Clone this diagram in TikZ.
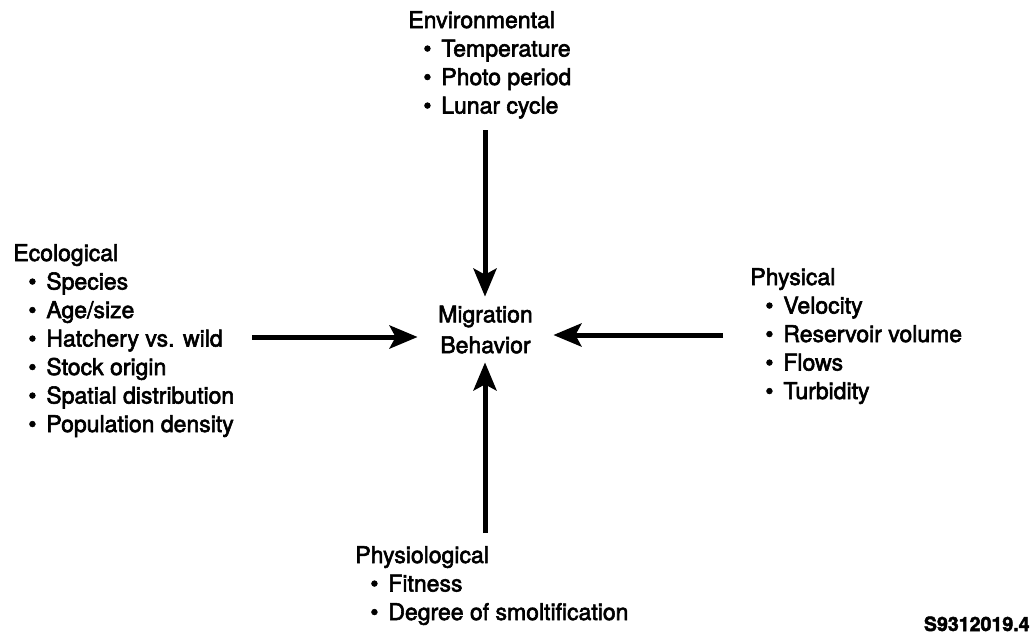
\documentclass[tikz,border=0pt]{standalone}
\usepackage{fontspec}
\setmainfont{TeX Gyre Heros}[FakeBold=2.5]
\usetikzlibrary{arrows.meta}
% bulleted entry of a factor list
\newcommand\bul[1]{\makebox[16.5pt][l]{\hspace{7.5pt}•}#1}
\begin{document}
\begin{tikzpicture}[x=0.5pt,y=-0.5pt,
  group/.style={anchor=base west,inner sep=0pt,align=left,
    font=\fontsize{11.5pt}{14.25pt}\selectfont},
  flow/.style={line width=2.5pt,-{Stealth[length=14pt,width=11.5pt,inset=3pt]}}]
\useasboundingbox[fill=white] (0,0) rectangle (1032,638);

% factor groups (placed by the baseline of their last line)
\node[group] (env) at (408,113.5) {Environmental\\
  \bul{Temperature}\\\bul{Photo period}\\\bul{Lunar cycle}};
\node[group] (eco) at (13,432) {Ecological\\
  \bul{Species}\\\bul{Age/size}\\\bul{Hatchery vs. wild}\\
  \bul{Stock origin}\\\bul{Spatial distribution}\\\bul{Population density}};
\node[group] (phys) at (750,399) {Physical\\
  \bul{Velocity}\\\bul{Reservoir volume}\\\bul{Flows}\\\bul{Turbidity}};
\node[group] (physio) at (355,620) {Physiological\\
  \bul{Fitness}\\\bul{Degree of smoltification}};

% central response
\node[inner sep=0pt,minimum width=67.5pt,minimum height=32.5pt,align=center,
  font=\fontsize{11.5pt}{13.5pt}\selectfont] (mig) at (485.5,329.5)
  {\raisebox{-2pt}{\shortstack{Migration\\[1.5pt]Behavior}}};

% figure code
\node[anchor=base east,inner sep=0pt,font=\bfseries\fontsize{9.8pt}{12pt}\selectfont]
  (code) at (1030,631) {S9312019.4};

% influences
\coordinate (envout) at (485,130);
\coordinate (ecoout) at (252,337);
\coordinate (physout) at (723,335);
\coordinate (physioout) at (485,533);
\draw[flow] (envout) -- (envout |- mig.north);
\draw[flow] (ecoout) -- (ecoout -| mig.west);
\draw[flow] (physout) -- (physout -| mig.east);
\draw[flow] (physioout) -- (physioout |- mig.south);
\end{tikzpicture}
\end{document}
